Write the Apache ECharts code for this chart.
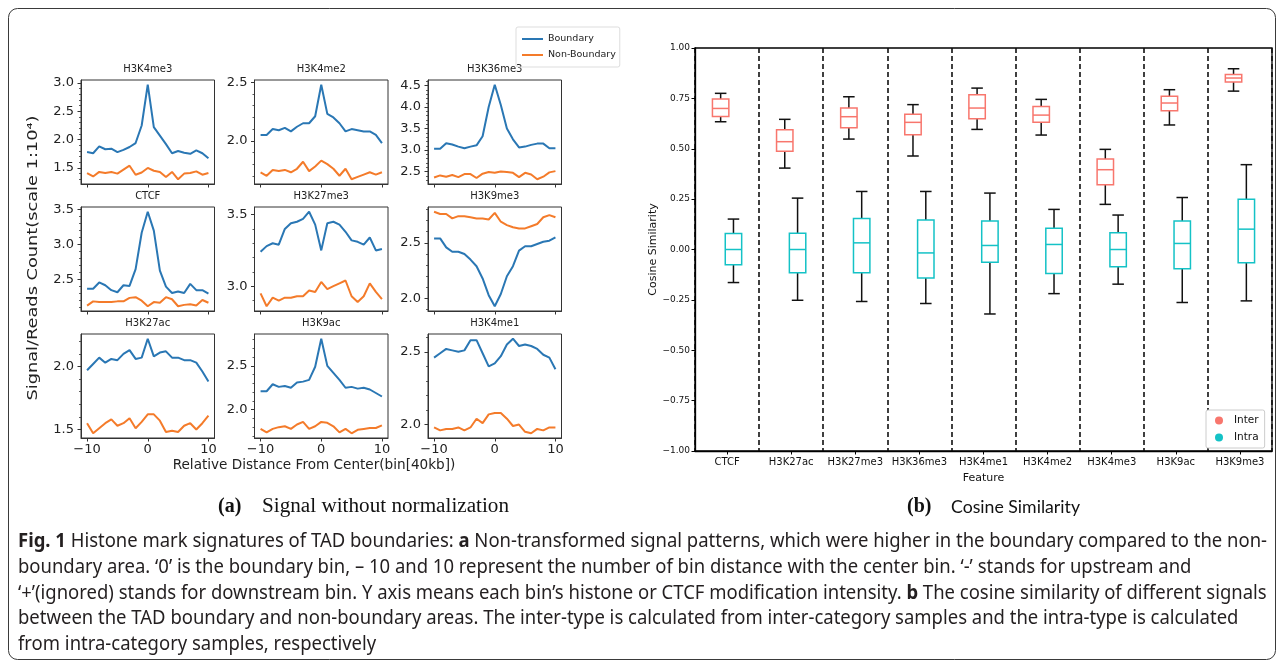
<!DOCTYPE html>
<html><head><meta charset="utf-8">
<script src="https://cdn.jsdelivr.net/npm/echarts@6/dist/echarts.min.js"></script>
<style>html,body{margin:0;padding:0;background:#fff}#c{width:1281px;height:666px}</style>
</head><body><div id="c"></div>
<script>
// ---------- DATA: panel (a) ----------
const xBins = [-10,-9,-8,-7,-6,-5,-4,-3,-2,-1,0,1,2,3,4,5,6,7,8,9,10];
const xTickValues = [-10, 0, 10];

const boundaryH3K4me3    = [1.78,1.76,1.88,1.83,1.84,1.78,1.82,1.87,1.94,2.25,2.97,2.22,2.07,1.92,1.76,1.80,1.77,1.75,1.81,1.76,1.67];
const nonBoundaryH3K4me3 = [1.41,1.35,1.43,1.41,1.43,1.40,1.47,1.54,1.38,1.42,1.50,1.45,1.43,1.34,1.43,1.30,1.40,1.41,1.44,1.38,1.41];
const ticksH3K4me3 = [1.5, 2.0, 2.5, 3.0];

const boundaryH3K4me2    = [2.05,2.05,2.10,2.09,2.11,2.08,2.12,2.15,2.15,2.21,2.48,2.23,2.20,2.15,2.08,2.10,2.09,2.08,2.08,2.05,1.98];
const nonBoundaryH3K4me2 = [1.73,1.70,1.75,1.74,1.75,1.73,1.76,1.82,1.74,1.78,1.83,1.80,1.76,1.70,1.76,1.67,1.69,1.71,1.73,1.71,1.73];
const ticksH3K4me2 = [2.0, 2.5];

const boundaryH3K36me3    = [3.03,3.03,3.16,3.13,3.08,3.04,3.08,3.11,3.32,4.00,4.52,4.05,3.50,3.25,3.06,3.08,3.12,3.15,3.15,3.04,3.04];
const nonBoundaryH3K36me3 = [2.36,2.41,2.38,2.42,2.37,2.44,2.44,2.35,2.45,2.49,2.47,2.50,2.49,2.47,2.37,2.47,2.43,2.32,2.38,2.48,2.51];
const ticksH3K36me3 = [2.5, 3.0, 3.5, 4.0, 4.5];

const boundaryCTCF    = [2.37,2.37,2.46,2.42,2.35,2.32,2.42,2.41,2.65,3.17,3.47,3.20,2.63,2.40,2.31,2.33,2.31,2.44,2.35,2.35,2.30];
const nonBoundaryCTCF = [2.13,2.19,2.18,2.18,2.18,2.19,2.19,2.24,2.25,2.20,2.12,2.18,2.17,2.25,2.22,2.12,2.14,2.15,2.13,2.21,2.17];
const ticksCTCF = [2.5, 3.0, 3.5];

const boundaryH3K27me3    = [3.24,3.28,3.30,3.29,3.40,3.44,3.45,3.47,3.52,3.43,3.25,3.44,3.45,3.43,3.38,3.32,3.31,3.29,3.34,3.25,3.26];
const nonBoundaryH3K27me3 = [2.95,2.86,2.92,2.90,2.92,2.92,2.93,2.93,2.97,2.96,3.03,2.98,3.00,3.02,3.04,2.93,2.89,2.93,3.02,2.96,2.91];
const ticksH3K27me3 = [3.0, 3.5];

const boundaryH3K9me3    = [2.54,2.54,2.46,2.42,2.42,2.40,2.35,2.29,2.18,2.03,1.93,2.04,2.20,2.29,2.43,2.47,2.47,2.49,2.51,2.52,2.55];
const nonBoundaryH3K9me3 = [2.78,2.76,2.76,2.72,2.74,2.74,2.73,2.72,2.72,2.71,2.77,2.69,2.66,2.64,2.63,2.63,2.65,2.67,2.73,2.75,2.73];
const ticksH3K9me3 = [2.0, 2.5];

const boundaryH3K27ac    = [1.97,2.02,2.07,2.03,2.06,2.05,2.10,2.13,2.06,2.07,2.22,2.08,2.11,2.12,2.07,2.07,2.05,2.05,2.03,1.96,1.88];
const nonBoundaryH3K27ac = [1.55,1.47,1.51,1.55,1.58,1.53,1.55,1.59,1.51,1.56,1.62,1.62,1.57,1.48,1.49,1.48,1.53,1.55,1.50,1.55,1.61];
const ticksH3K27ac = [1.5, 2.0];

const boundaryH3K9ac    = [2.21,2.21,2.29,2.26,2.27,2.25,2.31,2.32,2.34,2.49,2.81,2.50,2.42,2.34,2.25,2.26,2.24,2.25,2.23,2.19,2.15];
const nonBoundaryH3K9ac = [1.78,1.74,1.78,1.80,1.81,1.78,1.83,1.86,1.78,1.81,1.86,1.85,1.81,1.74,1.78,1.73,1.77,1.78,1.79,1.79,1.82];
const ticksH3K9ac = [2.0, 2.5];

const boundaryH3K4me1    = [2.46,2.49,2.52,2.51,2.50,2.51,2.58,2.58,2.49,2.40,2.42,2.47,2.55,2.59,2.54,2.55,2.54,2.52,2.48,2.46,2.38];
const nonBoundaryH3K4me1 = [1.98,1.96,1.97,1.97,1.98,1.96,1.98,2.04,2.01,2.07,2.08,2.08,2.04,1.99,2.00,1.95,1.94,1.97,1.96,1.98,1.98];
const ticksH3K4me1 = [2.0, 2.5];

// ---------- DATA: panel (b) ----------
const features = ['CTCF','H3K27ac','H3K27me3','H3K36me3','H3K4me1','H3K4me2','H3K4me3','H3K9ac','H3K9me3'];
const interLow    = [0.634,0.404,0.548,0.464,0.596,0.568,0.224,0.618,0.786];
const interQ1     = [0.660,0.488,0.604,0.570,0.649,0.631,0.321,0.689,0.831];
const interMedian = [0.700,0.535,0.659,0.631,0.702,0.667,0.396,0.727,0.851];
const interQ3     = [0.747,0.594,0.702,0.671,0.768,0.710,0.449,0.760,0.868];
const interHigh   = [0.775,0.646,0.758,0.719,0.801,0.745,0.497,0.793,0.897];
const intraLow    = [-0.164,-0.252,-0.258,-0.268,-0.320,-0.219,-0.172,-0.263,-0.255];
const intraQ1     = [-0.076,-0.116,-0.116,-0.142,-0.063,-0.119,-0.086,-0.096,-0.066];
const intraMedian = [0.000,0.000,0.033,-0.017,0.020,0.025,0.000,0.030,0.101];
const intraQ3     = [0.079,0.081,0.154,0.146,0.142,0.106,0.083,0.141,0.250];
const intraHigh   = [0.151,0.255,0.288,0.288,0.280,0.199,0.171,0.258,0.421];
const cosTicks = [-1.0,-0.75,-0.5,-0.25,0.0,0.25,0.5,0.75,1.0];

// ---------- TEXT ----------
const captionLines = [
  [{b:true,t:'Fig. 1'},{t:' Histone mark signatures of TAD boundaries: '},{b:true,t:'a'},{t:' Non-transformed signal patterns, which were higher in the boundary compared to the non-'}],
  [{t:'boundary area. \u20180\u2019 is the boundary bin, \u2013 10 and 10 represent the number of bin distance with the center bin. \u2018-\u2019 stands for upstream and'}],
  [{t:'\u2018+\u2019(ignored) stands for downstream bin. Y axis means each bin\u2019s histone or CTCF modification intensity. '},{b:true,t:'b'},{t:' The cosine similarity of different signals'}],
  [{t:'between the TAD boundary and non-boundary areas. The inter-type is calculated from inter-category samples and the intra-type is calculated'}],
  [{t:'from intra-category samples, respectively'}]
];

// ---------- BUILD ----------
const FONT = 'DejaVu Sans';
const BLUE = '#2a77b4', ORANGE = '#f47b2a';
const INTER = '#F8766D', INTRA = '#14C2C6';
const panels = [
  {title:'H3K4me3', b:boundaryH3K4me3, n:nonBoundaryH3K4me3, ticks:ticksH3K4me3},
  {title:'H3K4me2', b:boundaryH3K4me2, n:nonBoundaryH3K4me2, ticks:ticksH3K4me2},
  {title:'H3K36me3', b:boundaryH3K36me3, n:nonBoundaryH3K36me3, ticks:ticksH3K36me3},
  {title:'CTCF', b:boundaryCTCF, n:nonBoundaryCTCF, ticks:ticksCTCF},
  {title:'H3K27me3', b:boundaryH3K27me3, n:nonBoundaryH3K27me3, ticks:ticksH3K27me3},
  {title:'H3K9me3', b:boundaryH3K9me3, n:nonBoundaryH3K9me3, ticks:ticksH3K9me3},
  {title:'H3K27ac', b:boundaryH3K27ac, n:nonBoundaryH3K27ac, ticks:ticksH3K27ac},
  {title:'H3K9ac', b:boundaryH3K9ac, n:nonBoundaryH3K9ac, ticks:ticksH3K9ac},
  {title:'H3K4me1', b:boundaryH3K4me1, n:nonBoundaryH3K4me1, ticks:ticksH3K4me1}
];
const colLeft = [81, 254.5, 428], rowTop = [80, 207, 334], PW = 133.5, PH = 104;
const grids = [], xAxes = [], yAxes = [], series = [], graphics = [];
const minus = s => String(s).replace('-', '\u2212');
const spine = {color:'#333', width:1};

panels.forEach((p, i) => {
  const r = Math.floor(i / 3), c = i % 3;
  grids.push({left:colLeft[c], top:rowTop[r], width:PW, height:PH, show:true,
    borderColor:'#333', borderWidth:1, backgroundColor:'rgba(0,0,0,0)', outerBoundsMode:'none', containLabel:false});
  const all = p.b.concat(p.n);
  const lo = Math.min.apply(null, all), hi = Math.max.apply(null, all), pad = (hi - lo) * 0.05;
  const ymin = lo - pad, ymax = hi + pad;
  xAxes.push({gridIndex:i, type:'value', min:-11, max:11, position:'bottom',
    axisLine:{show:true, onZero:false, lineStyle:spine},
    axisTick:{show:true, inside:false, length:3.5, customValues:xTickValues, lineStyle:spine},
    axisLabel:{show:r === 2, customValues:xTickValues, formatter:v => minus(v), fontSize:13, color:'#222', margin:5, fontFamily:FONT},
    splitLine:{show:false}});
  const yMain = yAxes.length;
  yAxes.push({gridIndex:i, type:'value', min:ymin, max:ymax, position:'left', offset:0,
    axisLine:{show:true, onZero:false, lineStyle:spine},
    axisTick:{show:true, inside:false, length:3.5, customValues:p.ticks, lineStyle:spine},
    axisLabel:{show:true, customValues:p.ticks, formatter:v => v.toFixed(1), fontSize:13, color:'#222', margin:7, fontFamily:FONT},
    splitLine:{show:false}});
  const minors = [];
  for (let k = Math.ceil(ymin * 10); k <= Math.floor(ymax * 10); k++) { if (k % 5 !== 0) minors.push(k / 10); }
  yAxes.push({gridIndex:i, type:'value', min:ymin, max:ymax, position:'left', offset:0,
    axisLine:{show:false, onZero:false}, axisLabel:{show:false}, splitLine:{show:false},
    axisTick:{show:true, inside:false, length:2, customValues:minors, lineStyle:{color:'#333', width:0.8}}});
  series.push({type:'line', name:'Boundary', xAxisIndex:i, yAxisIndex:yMain, symbol:'none', silent:true,
    data:xBins.map((x, k) => [x, p.b[k]]), lineStyle:{width:2, color:BLUE}, itemStyle:{color:BLUE}});
  series.push({type:'line', name:'Non-Boundary', xAxisIndex:i, yAxisIndex:yMain, symbol:'none', silent:true,
    data:xBins.map((x, k) => [x, p.n[k]]), lineStyle:{width:2, color:ORANGE}, itemStyle:{color:ORANGE}});
  graphics.push({type:'text', x:colLeft[c] + PW / 2, y:rowTop[r] - 11, silent:true,
    style:{text:p.title, fontSize:10, fontFamily:FONT, fill:'#222', align:'center', textAlign:'center', verticalAlign:'middle', textVerticalAlign:'middle'}});
});

// panel (b)
const gB = grids.length;
grids.push({left:695, top:48, width:577, height:403, show:true, borderColor:'#000', borderWidth:1.3,
  backgroundColor:'rgba(0,0,0,0)', outerBoundsMode:'none', containLabel:false});
const xB = xAxes.length;
xAxes.push({gridIndex:gB, type:'category', data:features, boundaryGap:true, position:'bottom',
  axisLine:{show:true, onZero:false, lineStyle:{color:'#000', width:1.3}},
  axisTick:{show:true, alignWithLabel:true, length:3.5, lineStyle:{color:'#000'}},
  axisLabel:{interval:0, fontSize:10, color:'#111', margin:6, fontFamily:FONT},
  splitLine:{show:true, interval:0, lineStyle:{color:'#111', width:1.6, type:[5, 3]}},
  name:'Feature', nameLocation:'middle', nameGap:22, nameTextStyle:{fontSize:11, color:'#111', fontFamily:FONT}});
const yB = yAxes.length;
yAxes.push({gridIndex:gB, type:'value', min:-1, max:1, position:'left',
  axisLine:{show:true, onZero:false, lineStyle:{color:'#000', width:1.3}},
  axisTick:{show:true, length:3.5, customValues:cosTicks, lineStyle:{color:'#000'}},
  axisLabel:{customValues:cosTicks, formatter:v => minus(v.toFixed(2)), fontSize:9, color:'#111', margin:5, fontFamily:FONT},
  splitLine:{show:false},
  name:'Cosine Similarity', nameLocation:'middle', nameGap:32, nameRotate:90,
  nameTextStyle:{fontSize:11, color:'#111', fontFamily:FONT}});

function makeBoxRenderer(shift, color) {
  return function (params, api) {
    const c = api.value(0);
    const band = api.size([1, 0])[0];
    const x = api.coord([c, 0])[0] + shift * band;
    const half = band * 0.128, cap = band * 0.09;
    const yL = api.coord([c, api.value(1)])[1];
    const y1 = api.coord([c, api.value(2)])[1];
    const yM = api.coord([c, api.value(3)])[1];
    const y3 = api.coord([c, api.value(4)])[1];
    const yH = api.coord([c, api.value(5)])[1];
    const blk = {stroke:'#111', lineWidth:1.5, fill:null};
    return {type:'group', children:[
      {type:'line', shape:{x1:x, y1:yH, x2:x, y2:y3}, style:blk},
      {type:'line', shape:{x1:x, y1:y1, x2:x, y2:yL}, style:blk},
      {type:'line', shape:{x1:x - cap, y1:yH, x2:x + cap, y2:yH}, style:blk},
      {type:'line', shape:{x1:x - cap, y1:yL, x2:x + cap, y2:yL}, style:blk},
      {type:'rect', shape:{x:x - half, y:y3, width:2 * half, height:y1 - y3}, style:{fill:'none', stroke:color, lineWidth:1.5}},
      {type:'line', shape:{x1:x - half, y1:yM, x2:x + half, y2:yM}, style:{stroke:color, lineWidth:1.5}}
    ]};
  };
}
series.push({type:'custom', name:'Inter', xAxisIndex:xB, yAxisIndex:yB, clip:false, silent:true,
  itemStyle:{color:INTER}, encode:{x:0, y:[1,2,3,4,5]},
  data:features.map((f, i) => [i, interLow[i], interQ1[i], interMedian[i], interQ3[i], interHigh[i]]),
  renderItem:makeBoxRenderer(-0.1, INTER)});
series.push({type:'custom', name:'Intra', xAxisIndex:xB, yAxisIndex:yB, clip:false, silent:true,
  itemStyle:{color:INTRA}, encode:{x:0, y:[1,2,3,4,5]},
  data:features.map((f, i) => [i, intraLow[i], intraQ1[i], intraMedian[i], intraQ3[i], intraHigh[i]]),
  renderItem:makeBoxRenderer(0.1, INTRA)});

// ---------- free texts ----------
const cv = document.createElement('canvas').getContext('2d');
function textWidth(t, size, family, weight) {
  cv.font = (weight ? weight + ' ' : '') + size + 'px "' + family + '"';
  return cv.measureText(t).width;
}
const txt = (x, y, text, opt) => Object.assign({type:'text', x:x, y:y, silent:true,
  style:Object.assign({text:text, fill:'#222', fontFamily:FONT, fontSize:13, align:'left', textAlign:'left', verticalAlign:'middle', textVerticalAlign:'middle'}, opt || {})});
// text stretched/condensed to a target length
function fitTxt(x, y, text, target, opt) {
  const o = Object.assign({fontFamily:FONT, fontSize:13}, opt || {});
  const w = textWidth(text, o.fontSize, o.fontFamily, o.fontWeight);
  return Object.assign(txt(x, y, text, opt), {scaleX:target / w, originX:0, originY:0});
}

graphics.push({type:'rect', silent:true, shape:{x:8.5, y:8.5, width:1267, height:651, r:9},
  style:{fill:'none', stroke:'#3a3a3a', lineWidth:1}});
const yl = fitTxt(0, 0, 'Signal/Reads Count(scale 1:10\u2074)', 285, {fontSize:14, align:'center', textAlign:'center'});
yl.x = 33; yl.y = 258; yl.rotation = Math.PI / 2;
graphics.push(yl);
graphics.push(txt(314, 465, 'Relative Distance From Center(bin[40kb])', {fontSize:13.6, align:'center', textAlign:'center'}));
graphics.push(txt(218, 507, '(a)', {fontFamily:'Liberation Serif', fontWeight:'bold', fontSize:20, fill:'#111'}));
graphics.push(fitTxt(262, 507, 'Signal without normalization', 247, {fontFamily:'Liberation Serif', fontSize:20, fill:'#111'}));
graphics.push(txt(907, 507, '(b)', {fontFamily:'Liberation Serif', fontWeight:'bold', fontSize:20, fill:'#111'}));
graphics.push(fitTxt(951, 507, 'Cosine Similarity', 129, {fontFamily:'Lato', fontSize:17.5, fill:'#111'}));

// caption paragraph: condensed by measured horizontal scale
const CAP_FONT = 'Noto Sans', CAP_SIZE = 19;
function measure(segs) {
  let w = 0;
  segs.forEach(s => { w += textWidth(s.t, CAP_SIZE, CAP_FONT, s.b ? 'bold' : ''); });
  return w;
}
const capScale = 1249 / measure(captionLines[0]);
const capY = [542, 568, 594, 619, 645];
captionLines.forEach((segs, i) => {
  const text = segs.map(s => s.b ? '{b|' + s.t + '}' : s.t).join('');
  graphics.push({type:'text', x:18, y:capY[i], scaleX:capScale, originX:0, originY:0, silent:true,
    style:{text:text, fill:'#231f20', fontFamily:CAP_FONT, fontSize:CAP_SIZE, align:'left', textAlign:'left', verticalAlign:'middle', textVerticalAlign:'middle',
      rich:{b:{fontFamily:CAP_FONT, fontSize:CAP_SIZE, fontWeight:'bold', fill:'#231f20'}}}});
});

const chart = echarts.init(document.getElementById('c'), null, {renderer:'canvas'});
chart.setOption({
  animation:false,
  backgroundColor:'#fff',
  grid:grids, xAxis:xAxes, yAxis:yAxes, series:series,
  legend:[
    {data:[{name:'Boundary', icon:'rect'}, {name:'Non-Boundary', icon:'rect'}], orient:'vertical', left:516, top:27,
     itemWidth:21, itemHeight:2, itemGap:6, padding:[7,4,7,6], borderColor:'#ddd', borderWidth:1, borderRadius:2, selectedMode:false,
     textStyle:{fontSize:9.5, fontFamily:FONT, color:'#222'}},
    {data:[{name:'Inter', icon:'circle'}, {name:'Intra', icon:'circle'}], orient:'vertical', left:1206, top:410,
     itemWidth:20, itemHeight:8, itemGap:6, padding:[5,6,5,9], borderColor:'#ccc', borderWidth:1, borderRadius:2,
     selectedMode:false, backgroundColor:'#fff', textStyle:{fontSize:10.5, fontFamily:FONT, color:'#111'}}
  ],
  graphic:{elements:graphics}
});
</script>
</body></html>
